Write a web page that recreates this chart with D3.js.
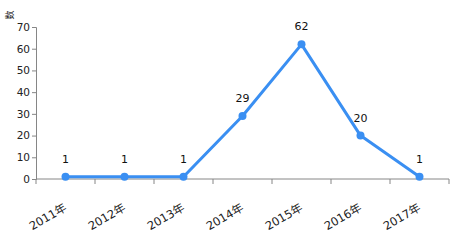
<!DOCTYPE html>
<html>
<head>
<meta charset="utf-8">
<script src="https://cdn.jsdelivr.net/npm/d3@7"></script>
<style>
  body { margin: 0; background: #fff; }
  text { font-family: "DejaVu Sans", "Noto Sans CJK SC", sans-serif; }
</style>
</head>
<body>
<div id="chart"></div>
<script>
var years = ["2011年", "2012年", "2013年", "2014年", "2015年", "2016年", "2017年"];
var counts = [1, 1, 1, 29, 62, 20, 1];
var yTicks = [0, 10, 20, 30, 40, 50, 60, 70];

var width = 452, height = 242;
var margin = {top: 27, right: 3, bottom: 63, left: 36};

var svg = d3.select("#chart").append("svg")
  .attr("width", width)
  .attr("height", height);

var x = d3.scaleBand()
  .domain(years)
  .range([margin.left, width - margin.right]);

var y = d3.scaleLinear()
  .domain([0, 70])
  .range([height - margin.bottom, margin.top]);

// y axis
var yAxis = svg.append("g")
  .attr("transform", "translate(" + margin.left + ",0)")
  .call(d3.axisLeft(y).tickValues(yTicks).tickSize(4).tickPadding(2));
yAxis.select(".domain").attr("stroke", "#868686");
yAxis.selectAll(".tick line").attr("stroke", "#868686");
yAxis.selectAll(".tick text").attr("fill", "#222").style("font-size", "10.5px");

// x axis, labels hang under each band centre
var xAxis = svg.append("g")
  .attr("transform", "translate(0," + y(0) + ")")
  .call(d3.axisBottom(x).tickSize(0).tickPadding(0));
xAxis.select(".domain").attr("stroke", "#868686").attr("d",
  "M" + margin.left + ",0H" + (width - margin.right));
xAxis.selectAll(".tick text")
  .attr("fill", "#222")
  .style("font-size", "11.5px")
  .attr("text-anchor", "end")
  .attr("transform", "translate(2,31) rotate(-30)")
  .attr("dy", 0)
  .attr("x", 0)
  .attr("y", 0);

var edges = years.map(function(d) { return x(d); }).concat([x.range()[1]]);
svg.append("g").selectAll("line")
  .data(edges)
  .enter()
  .append("line")
  .attr("x1", function(d) { return d; })
  .attr("x2", function(d) { return d; })
  .attr("y1", y(0))
  .attr("y2", y(0) + 5)
  .attr("stroke", "#868686");

// line
var line = d3.line()
  .x(function(d, i) { return x(years[i]) + x.bandwidth() / 2; })
  .y(function(d) { return y(d); });

svg.append("path")
  .datum(counts)
  .attr("d", line)
  .attr("fill", "none")
  .attr("stroke", "#3a8ff2")
  .attr("stroke-width", 3)
  .attr("stroke-linejoin", "round");

svg.append("g").selectAll("circle")
  .data(counts)
  .enter()
  .append("circle")
  .attr("cx", function(d, i) { return x(years[i]) + x.bandwidth() / 2; })
  .attr("cy", function(d) { return y(d); })
  .attr("r", 4)
  .attr("fill", "#3a8ff2");

svg.append("g").selectAll("text")
  .data(counts)
  .enter()
  .append("text")
  .attr("x", function(d, i) { return x(years[i]) + x.bandwidth() / 2; })
  .attr("y", function(d) { return y(d) - 14; })
  .attr("text-anchor", "middle")
  .style("font-size", "11px")
  .attr("fill", "#111")
  .text(function(d) { return d; });

// unit label
svg.append("text")
  .attr("transform", "translate(10,15) rotate(-90)")
  .attr("text-anchor", "middle")
  .attr("dy", "0.35em")
  .style("font-size", "9px")
  .attr("fill", "#222")
  .text("数");
</script>
</body>
</html>
